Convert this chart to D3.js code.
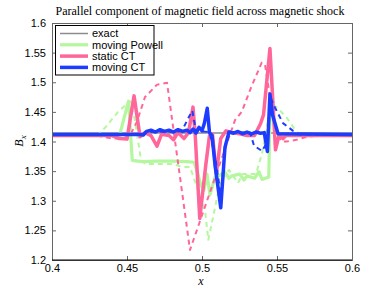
<!DOCTYPE html>
<html>
<head>
<meta charset="utf-8">
<script src="https://cdn.jsdelivr.net/npm/d3@7"></script>
<style>
  html, body { margin: 0; padding: 0; background: #fff; }
  .tick text { font: 11px "Liberation Sans", Arial, sans-serif; fill: #000; }
</style>
</head>
<body>
<svg id="chart" width="390" height="293"></svg>
<script>
// exact solution
const exactX = [0.4, 0.6];
const exactB = [1.4142, 1.4142];

// moving Powell (solid) and its dashed companion
const powellX = [0.4, 0.445, 0.451, 0.4535, 0.46, 0.47, 0.48, 0.49, 0.4947, 0.497, 0.4993, 0.5013, 0.5033, 0.5053, 0.5087, 0.512, 0.515, 0.518, 0.52, 0.525, 0.528, 0.53, 0.535, 0.538, 0.54, 0.5445, 0.5455, 0.548, 0.551, 0.6];
const powellB = [1.41, 1.41, 1.468, 1.368, 1.366, 1.367, 1.367, 1.366, 1.365, 1.348, 1.326, 1.318, 1.345, 1.31, 1.34, 1.343, 1.349, 1.338, 1.342, 1.345, 1.335, 1.342, 1.338, 1.349, 1.336, 1.34, 1.465, 1.43, 1.412, 1.41];
const powellDashX = [0.4, 0.43, 0.436, 0.444, 0.452, 0.455, 0.4593, 0.462, 0.48, 0.487, 0.492, 0.502, 0.5042, 0.508, 0.512, 0.518, 0.524, 0.527, 0.532, 0.536, 0.54, 0.543, 0.546, 0.551, 0.5565, 0.562, 0.565, 0.6];
const powellDashB = [1.41, 1.41, 1.425, 1.45, 1.468, 1.44, 1.37, 1.362, 1.362, 1.357, 1.357, 1.284, 1.234, 1.28, 1.33, 1.352, 1.33, 1.345, 1.345, 1.345, 1.38, 1.42, 1.465, 1.455, 1.44, 1.42, 1.41, 1.41];

// static CT (solid) and dashed
const staticX = [0.4, 0.44, 0.445, 0.45, 0.4547, 0.4587, 0.462, 0.466, 0.47, 0.473, 0.478, 0.481, 0.484, 0.488, 0.491, 0.494, 0.4955, 0.4985, 0.5025, 0.505, 0.507, 0.5095, 0.5125, 0.516, 0.52, 0.525, 0.53, 0.535, 0.539, 0.541, 0.5453, 0.549, 0.5515, 0.554, 0.556, 0.56, 0.6];
const staticB = [1.41, 1.41, 1.405, 1.404, 1.477, 1.408, 1.415, 1.41, 1.392, 1.412, 1.41, 1.403, 1.415, 1.405, 1.415, 1.458, 1.41, 1.27, 1.36, 1.41, 1.412, 1.345, 1.405, 1.418, 1.415, 1.413, 1.41, 1.41, 1.43, 1.445, 1.557, 1.386, 1.412, 1.405, 1.41, 1.41, 1.41];
const staticDashX = [0.4, 0.43, 0.44, 0.447, 0.452, 0.4567, 0.462, 0.47, 0.4767, 0.492, 0.522, 0.5265, 0.533, 0.5398, 0.542, 0.545, 0.549, 0.553, 0.5565, 0.563, 0.5687, 0.5765, 0.6];
const staticDashB = [1.41, 1.41, 1.405, 1.405, 1.41, 1.434, 1.475, 1.496, 1.499, 1.217, 1.436, 1.45, 1.493, 1.533, 1.53, 1.48, 1.42, 1.4, 1.4, 1.403, 1.407, 1.41, 1.41];

// moving CT (solid) and dashed
const ctX = [0.4, 0.458, 0.461, 0.463, 0.466, 0.469, 0.472, 0.475, 0.478, 0.481, 0.484, 0.487, 0.49, 0.492, 0.494, 0.496, 0.498, 0.5, 0.5015, 0.5035, 0.505, 0.5067, 0.5087, 0.5125, 0.5153, 0.518, 0.521, 0.524, 0.527, 0.53, 0.533, 0.536, 0.539, 0.5415, 0.5436, 0.5453, 0.547, 0.5507, 0.6];
const ctB = [1.412, 1.412, 1.411, 1.417, 1.419, 1.416, 1.42, 1.417, 1.419, 1.416, 1.42, 1.417, 1.419, 1.415, 1.421, 1.414, 1.424, 1.418, 1.43, 1.456, 1.415, 1.41, 1.36, 1.288, 1.39, 1.416, 1.414, 1.417, 1.413, 1.416, 1.413, 1.416, 1.414, 1.415, 1.383, 1.48, 1.445, 1.413, 1.412];
const ctDashX = [0.4, 0.46, 0.463, 0.485, 0.488, 0.491, 0.4935, 0.496, 0.505, 0.509, 0.5125, 0.516, 0.519, 0.532, 0.5347, 0.54, 0.5433, 0.5455, 0.5487, 0.554, 0.5607, 0.565, 0.6];
const ctDashB = [1.412, 1.412, 1.416, 1.417, 1.425, 1.44, 1.452, 1.418, 1.416, 1.37, 1.31, 1.4, 1.416, 1.415, 1.393, 1.384, 1.398, 1.475, 1.457, 1.431, 1.418, 1.412, 1.412];

const xTicks = [0.4, 0.45, 0.5, 0.55, 0.6];
const yTicks = [1.2, 1.25, 1.3, 1.35, 1.4, 1.45, 1.5, 1.55, 1.6];
const legendLabels = ['exact', 'moving Powell', 'static CT', 'moving CT'];

const green = '#b5f79e', pink = '#ff6699', blue = '#1e3cff', gray = '#8c8c8c';

const svg = d3.select('#chart');
const mLeft = 52, mRight = 352, mTop = 23, mBottom = 260;

const x = d3.scaleLinear().domain([0.4, 0.6]).range([mLeft, mRight]);
const y = d3.scaleLinear().domain([1.2, 1.6]).range([mBottom, mTop]);

const zip = (xs, ys) => xs.map((v, i) => [v, ys[i]]);
const line = d3.line().x(d => x(d[0])).y(d => y(d[1]));

const plot = svg.append('g');
const series = [
    {data: zip(exactX, exactB), color: gray, width: 1.5},
    {data: zip(powellX, powellB), color: green, width: 3.2},
    {data: zip(powellDashX, powellDashB), color: green, width: 2, dash: '5,4'},
    {data: zip(staticX, staticB), color: pink, width: 3.5},
    {data: zip(staticDashX, staticDashB), color: pink, width: 2, dash: '5,4'},
    {data: zip(ctX, ctB), color: blue, width: 3.5},
    {data: zip(ctDashX, ctDashB), color: blue, width: 2, dash: '5,4'}
];
plot.selectAll('path')
    .data(series)
    .join('path')
    .attr('d', d => line(d.data))
    .attr('fill', 'none')
    .attr('stroke', d => d.color)
    .attr('stroke-width', d => d.width)
    .attr('stroke-dasharray', d => d.dash || null)
    .attr('stroke-linejoin', 'round');

// axes, MATLAB style with inward ticks on all four sides
const fmt = d => String(d);
svg.append('g').attr('transform', `translate(0,${mBottom})`)
    .call(d3.axisBottom(x).tickValues(xTicks).tickFormat(fmt).tickSize(-4).tickPadding(4));
svg.append('g').attr('transform', `translate(0,${mTop})`)
    .call(d3.axisTop(x).tickValues(xTicks).tickFormat('').tickSize(-4));
svg.append('g').attr('transform', `translate(${mLeft},0)`)
    .call(d3.axisLeft(y).tickValues(yTicks).tickFormat(fmt).tickSize(-4).tickPadding(6));
svg.append('g').attr('transform', `translate(${mRight},0)`)
    .call(d3.axisRight(y).tickValues(yTicks).tickFormat('').tickSize(-4));
svg.selectAll('.domain').attr('stroke', '#666');
svg.selectAll('.tick line').attr('stroke', '#666');
svg.append('line').attr('x1', mLeft).attr('x2', mRight).attr('y1', mBottom).attr('y2', mBottom)
    .attr('stroke', '#000');

// titles
svg.append('text').attr('x', 200).attr('y', 15).attr('text-anchor', 'middle')
    .style('font', '12px "Liberation Serif", "DejaVu Serif", serif')
    .text('Parallel component of magnetic field across magnetic shock');
svg.append('text').attr('x', 201).attr('y', 285).attr('text-anchor', 'middle')
    .style('font', 'italic 12px "Liberation Serif", serif').text('x');
const yl = svg.append('text').attr('transform', 'translate(23,141) rotate(-90)')
    .attr('text-anchor', 'middle').style('font', 'italic 12px "Liberation Serif", serif');
yl.append('tspan').text('B');
yl.append('tspan').attr('font-size', '9px').attr('dy', 3).text('x');

// legend
const legend = svg.append('g');
legend.append('rect').attr('x', 55.5).attr('y', 25.5).attr('width', 98.5).attr('height', 49.5)
    .attr('fill', '#fff').attr('stroke', '#000');
const legendStyle = [
    {color: gray, width: 1.5}, {color: green, width: 3.2}, {color: pink, width: 3.5}, {color: blue, width: 3.5}
];
legendLabels.forEach((lab, i) => {
    const yy = 33.5 + i * 11.3;
    legend.append('line').attr('x1', 60).attr('x2', 88).attr('y1', yy).attr('y2', yy)
        .attr('stroke', legendStyle[i].color).attr('stroke-width', legendStyle[i].width);
    legend.append('text').attr('x', 92).attr('y', yy + 3.8)
        .style('font', '11px "Liberation Sans", Arial, sans-serif').text(lab);
});
</script>
</body>
</html>
